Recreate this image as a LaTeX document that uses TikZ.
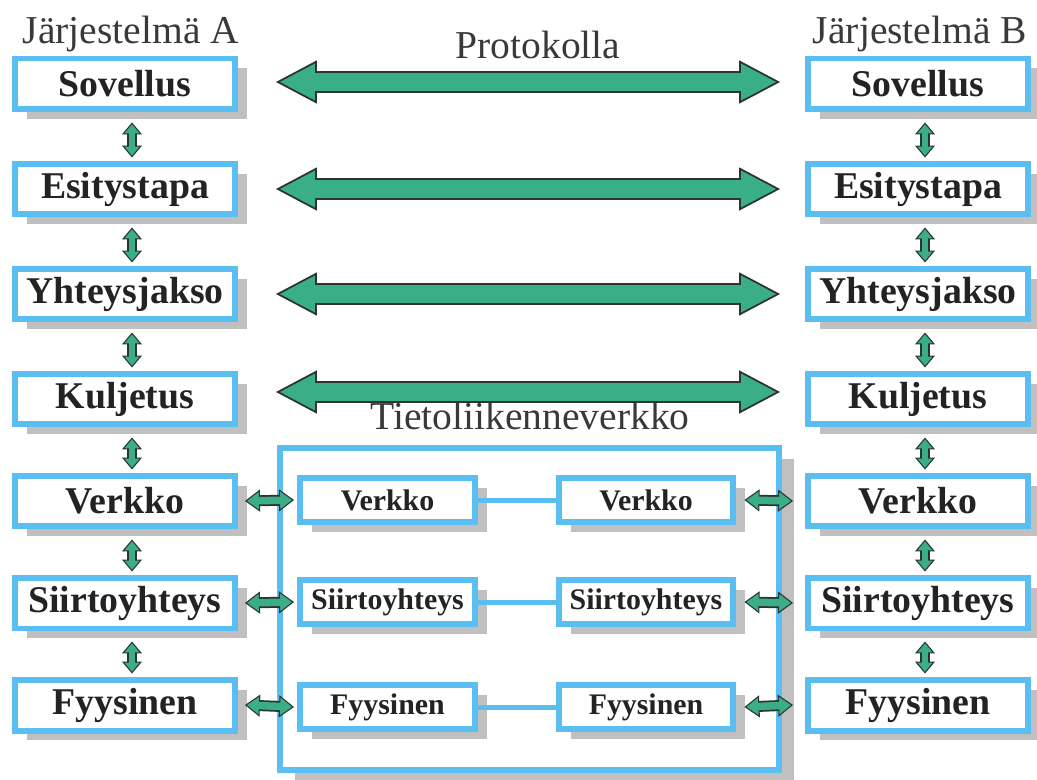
\documentclass[tikz,border=0pt]{standalone}
\usepackage{fontspec}
\setmainfont{Liberation Serif}
\usetikzlibrary{arrows.meta,shadows}
\definecolor{layerblue}{RGB}{91,190,240}
\definecolor{pipegreen}{RGB}{58,174,135}
\definecolor{pipeedge}{RGB}{45,50,50}
\definecolor{shadowgray}{RGB}{192,192,192}
\definecolor{inktext}{RGB}{35,35,35}
\tikzset{
  layer/.style={draw=layerblue,line width=0.12cm,fill=white,inner sep=0pt,
    minimum width=4.4cm,minimum height=1.02cm,text=inktext,
    font=\bfseries\fontsize{21.5}{21.5}\selectfont,
    drop shadow={shadow xshift=0.24cm,shadow yshift=-0.2cm,fill=shadowgray,opacity=1}},
  sublayer/.style={layer,minimum width=3.5cm,minimum height=0.88cm,
    font=\bfseries\fontsize{17}{17}\selectfont},
  netbox/.style={draw=layerblue,line width=0.11cm,fill=white,
    minimum width=9.98cm,minimum height=6.44cm,
    drop shadow={shadow xshift=0.3cm,shadow yshift=-0.22cm,fill=shadowgray,opacity=1}},
  caption/.style={anchor=base,text=inktext!90,font=\fontsize{22.5}{22.5}\selectfont},
  wire/.style={draw=layerblue,line width=0.1cm},
  pipe/.style={draw=pipeedge,line width=0.44cm,
    {Triangle[length=0.82cm,width=0.86cm,line width=1pt,fill=pipegreen]}-{Triangle[length=0.82cm,width=0.86cm,line width=1pt,fill=pipegreen]},
    postaction={draw=pipegreen,-,line width=0.36cm,shorten <=0.5cm,shorten >=0.5cm}},
  link/.style={draw=pipeedge,line width=0.2cm,
    {Triangle[length=0.24cm,width=0.4cm,line width=0.6pt,fill=pipegreen]}-{Triangle[length=0.24cm,width=0.4cm,line width=0.6pt,fill=pipegreen]},
    postaction={draw=pipegreen,-,line width=0.13cm,shorten <=0.14cm,shorten >=0.14cm}},
  hlink/.style={draw=pipeedge,line width=0.22cm,
    {Triangle[length=0.3cm,width=0.44cm,line width=0.6pt,fill=pipegreen]}-{Triangle[length=0.3cm,width=0.44cm,line width=0.6pt,fill=pipegreen]},
    postaction={draw=pipegreen,-,line width=0.15cm,shorten <=0.18cm,shorten >=0.18cm}}
}

\begin{document}
\begin{tikzpicture}[x=0.02cm,y=-0.02cm]
\useasboundingbox (0,0) rectangle (1037,780);

% the two protocol stacks
\node[layer] (sovA) at (125,84) {Sovellus};
\node[layer] (esiA) at (125,189) {Esitystapa};
\node[layer] (yhtA) at (125,294) {Yhteysjakso};
\node[layer] (kulA) at (125,399) {Kuljetus};
\node[layer] (verA) at (125,501) {Verkko};
\node[layer] (siiA) at (125,603) {Siirtoyhteys};
\node[layer] (fyyA) at (125,705) {Fyysinen};

\node[layer] (sovB) at (918,84) {Sovellus};
\node[layer] (esiB) at (918,189) {Esitystapa};
\node[layer] (yhtB) at (918,294) {Yhteysjakso};
\node[layer] (kulB) at (918,399) {Kuljetus};
\node[layer] (verB) at (918,501) {Verkko};
\node[layer] (siiB) at (918,603) {Siirtoyhteys};
\node[layer] (fyyB) at (918,705) {Fyysinen};

\node[caption] (sysA) at (131,44) {Järjestelmä A};
\node[caption] (sysB) at (920,44) {Järjestelmä B};
\node[caption] (proto) at (538,59) {Protokolla};

% network in the middle
\node[netbox] (net) at (529.5,609) {};
\node[caption] (netname) at (530,429) {Tietoliikenneverkko};
\node[sublayer] (verL) at (387.5,500) {Verkko};
\node[sublayer] (siiL) at (387.5,602) {Siirtoyhteys};
\node[sublayer] (fyyL) at (387.5,707) {Fyysinen};
\node[sublayer] (verR) at (646,500) {Verkko};
\node[sublayer] (siiR) at (646,602) {Siirtoyhteys};
\node[sublayer] (fyyR) at (646,707) {Fyysinen};
\draw[wire] (verL) -- (verR);
\draw[wire] (siiL) -- (siiR);
\draw[wire] (fyyL) -- (fyyR);

% peer protocols
\draw[pipe] ([shift={(38,-2)}]sovA.east) -- ([shift={(-25,-2)}]sovB.west);
\draw[pipe] ([shift={(38,0)}]esiA.east) -- ([shift={(-25,0)}]esiB.west);
\draw[pipe] ([shift={(38,0)}]yhtA.east) -- ([shift={(-25,0)}]yhtB.west);
\draw[pipe] ([shift={(38,-7)}]kulA.east) -- ([shift={(-25,-7)}]kulB.west);

% between layers
\foreach \a/\b in {sov/esi,esi/yht,yht/kul,kul/ver,ver/sii,sii/fyy}{
  \draw[link] ([shift={(7,10)}]\a A.south) -- ([shift={(7,-3)}]\b A.north);
  \draw[link] ([shift={(7,10)}]\a B.south) -- ([shift={(7,-3)}]\b B.north);
}

% into and out of the network
\foreach \n in {ver,sii,fyy}{
  \draw[hlink] ([xshift=0.14cm]\n A.east) -- ([xshift=-0.06cm]\n L.west);
  \draw[hlink] ([xshift=0.16cm]\n R.east) -- ([xshift=-0.24cm]\n B.west);
}
\end{tikzpicture}
\end{document}
